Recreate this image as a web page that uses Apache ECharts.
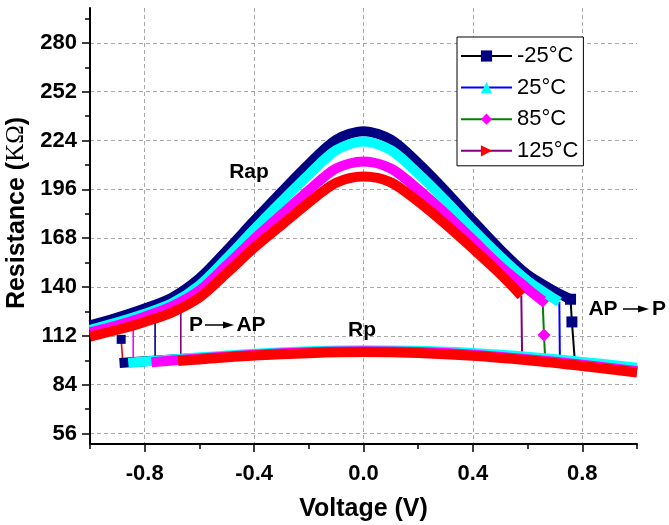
<!DOCTYPE html>
<html>
<head>
<meta charset="utf-8">
<script src="https://cdn.jsdelivr.net/npm/echarts@6/dist/echarts.min.js"></script>
<style>
html,body{margin:0;padding:0;background:#fff;}
#chart{width:669px;height:525px;}
</style>
</head>
<body>
<div id="chart"></div>
<script>
// ---------- DATA ----------
const seriesNames = ['-25°C', '25°C', '85°C', '125°C'];

// Rap (anti-parallel state) branches
const vRapM25 = [-1, -0.9, -0.8, -0.7, -0.6, -0.5, -0.4, -0.3, -0.2, -0.1, 0, 0.1, 0.2, 0.3, 0.4, 0.5, 0.6, 0.7, 0.757];
const rRapM25 = [118, 122.5, 127.7, 134, 145, 161, 178, 194.5, 210.5, 224.5, 229.4, 224.5, 211, 195, 178, 161.5, 147, 137.5, 133];
const vRap25 = [-1, -0.9, -0.8, -0.7, -0.6, -0.5, -0.4, -0.3, -0.2, -0.1, 0, 0.1, 0.2, 0.3, 0.4, 0.5, 0.6, 0.7, 0.716];
const rRap25 = [115.5, 119.8, 124.7, 130.7, 141, 156.5, 173, 189, 204.5, 218.5, 223.4, 218.5, 205, 189.5, 173, 157.5, 143.5, 133, 131.5];
const vRap85 = [-1, -0.9, -0.8, -0.7, -0.6, -0.5, -0.4, -0.3, -0.2, -0.1, 0, 0.1, 0.2, 0.3, 0.4, 0.5, 0.6, 0.656];
const rRap85 = [114, 118, 123, 129, 138, 152.5, 167.5, 181.5, 195.5, 208, 212, 208, 196, 182, 167, 152, 139, 132];
const vRap125 = [-1, -0.9, -0.8, -0.7, -0.6, -0.5, -0.4, -0.3, -0.2, -0.1, 0, 0.1, 0.2, 0.3, 0.4, 0.5, 0.577];
const rRap125 = [111.6, 115.5, 120, 125.5, 134, 148, 162.5, 175.5, 188.5, 199.8, 203.4, 200, 189, 176, 162, 147.5, 135];

// Rp (parallel state) branches
const vRpM25 = [-0.892, -0.8, -0.6, -0.4, -0.2, 0, 0.2, 0.4, 0.6, 0.8, 1.0];
const rRpM25 = [96.5, 97.5, 99.3, 101, 102.4, 103, 102.6, 101.2, 98.8, 95.8, 92.2];
const vRp25 = [-0.86, -0.8, -0.6, -0.4, -0.2, 0, 0.2, 0.4, 0.6, 0.8, 1.0];
const rRp25 = [96.5, 97.3, 99.7, 101.8, 103.2, 103.8, 103.4, 102.2, 100, 97.1, 93.8];
const vRp85 = [-0.775, -0.6, -0.4, -0.2, 0, 0.2, 0.4, 0.6, 0.8, 1.0];
const rRp85 = [96.9, 99.1, 101.2, 102.6, 103.2, 102.7, 101.2, 98.6, 95.5, 91.8];
const vRp125 = [-0.678, -0.6, -0.4, -0.2, 0, 0.2, 0.4, 0.6, 0.8, 1.0];
const rRp125 = [97.6, 98.5, 100.7, 102.1, 102.7, 102.2, 100.6, 98, 94.7, 91];

// AP -> P switching (positive voltage); marker flag 1 = symbol drawn
const vSwApM25 = [0.757, 0.762, 0.772];
const rSwApM25 = [133, 120, 99];
const mSwApM25 = [1, 1, 0];
const vSwAp25 = [0.716, 0.718];
const rSwAp25 = [131.5, 99];
const mSwAp25 = [0, 0];
const vSwAp85 = [0.655, 0.66, 0.664];
const rSwAp85 = [132, 112.5, 99];
const mSwAp85 = [1, 1, 0];
const vSwAp125 = [0.577, 0.58];
const rSwAp125 = [135, 99];
const mSwAp125 = [0, 0];

// P -> AP switching (negative voltage)
const vSwPM25 = [-0.88, -0.886];
const rSwPM25 = [96.6, 110];
const mSwPM25 = [0, 1];
const vSwP25 = [-0.842, -0.842];
const rSwP25 = [96.5, 118.7];
const vSwP85 = [-0.762, -0.762];
const rSwP85 = [97, 121];
const vSwP125 = [-0.668, -0.668];
const rSwP125 = [97.6, 127];

// axis ticks
const yMajorTicks = [56, 84, 112, 140, 168, 196, 224, 252, 280];
const yMinorTicks = [70, 98, 126, 154, 182, 210, 238, 266, 294];
const xMajorTicks = [-0.8, -0.4, 0, 0.4, 0.8];
const xMinorTicks = [-1, -0.6, -0.2, 0.2, 0.6, 1];

// ---------- STYLE ----------
const markerColors = ['#000080', '#00ffff', '#ff00ff', '#ff0000'];
const lineColors = ['#000000', '#0000ff', '#008000', '#800080'];
const leftSwitchColors = ['#ff0000', '#ff00ff', '#000080', '#800080'];
const symbols = ['rect', 'triangle', 'diamond', 'triangle'];
const symbolRot = [0, 0, 0, -90];
const FONT = 'Liberation Sans, Arial, sans-serif';

function pairs(v, r) { return v.map((x, i) => [x, r[i]]); }
function flagged(v, r, m) {
  return v.map((x, i) => m[i] ? { value: [x, r[i]] } : { value: [x, r[i]], symbol: 'none' });
}
function plain(v, r) { return v.map((x, i) => ({ value: [x, r[i]], symbol: 'none' })); }

const rapData = [pairs(vRapM25, rRapM25), pairs(vRap25, rRap25), pairs(vRap85, rRap85), pairs(vRap125, rRap125)];
const rpData = [pairs(vRpM25, rRpM25), pairs(vRp25, rRp25), pairs(vRp85, rRp85), pairs(vRp125, rRp125)];
const swApData = [flagged(vSwApM25, rSwApM25, mSwApM25), flagged(vSwAp25, rSwAp25, mSwAp25),
  flagged(vSwAp85, rSwAp85, mSwAp85), flagged(vSwAp125, rSwAp125, mSwAp125)];
const swPData = [flagged(vSwPM25, rSwPM25, mSwPM25), plain(vSwP25, rSwP25), plain(vSwP85, rSwP85), plain(vSwP125, rSwP125)];

const series = [];
// legend carriers: AP->P switching lines (thin line colour + marker)
for (let i = 0; i < 4; i++) {
  series.push({
    name: seriesNames[i], type: 'line', data: swApData[i], z: 2,
    symbol: symbols[i], symbolSize: symbols[i] === 'diamond' ? 13 : 11, symbolRotate: symbolRot[i],
    itemStyle: { color: markerColors[i] },
    lineStyle: { color: lineColors[i], width: 2 },
    emphasis: { disabled: true }, animation: false
  });
}
for (let i = 0; i < 4; i++) {
  series.push({
    name: seriesNames[i], type: 'line', data: swPData[i], z: 2,
    symbol: 'rect', symbolSize: 9,
    itemStyle: { color: markerColors[i] },
    lineStyle: { color: leftSwitchColors[i], width: 1.6 },
    emphasis: { disabled: true }, animation: false
  });
}
for (let i = 0; i < 4; i++) {
  series.push({
    name: seriesNames[i], type: 'line', data: rapData[i], z: 3, smooth: 0.3,
    symbol: 'none', lineStyle: { color: markerColors[i], width: 10, cap: 'butt' },
    itemStyle: { color: markerColors[i] },
    emphasis: { disabled: true }, animation: false
  });
}
for (let i = 0; i < 4; i++) {
  series.push({
    name: seriesNames[i], type: 'line', data: rpData[i], z: 3, smooth: 0.3,
    symbol: 'none', lineStyle: { color: markerColors[i], width: 10, cap: 'butt' },
    itemStyle: { color: markerColors[i] },
    emphasis: { disabled: true }, animation: false
  });
}

const axisTxt = { color: '#000', fontFamily: FONT, fontWeight: 'bold', fontSize: 22 };
const txtStyle = (t, x, y, size) => ({ type: 'text', z: 20, style: { text: t, x: x, y: y, align: 'center', verticalAlign: 'middle', textAlign: 'center', textVerticalAlign: 'middle', font: 'bold ' + size + 'px ' + FONT, fill: '#000' } });

const option = {
  animation: false,
  backgroundColor: '#fff',
  grid: { left: 90, right: 32, top: 8, bottom: 81, outerBoundsMode: 'none', containLabel: false },
  xAxis: [{
    type: 'value', min: -1, max: 1, position: 'bottom',
    name: 'Voltage (V)', nameLocation: 'middle', nameGap: 53,
    nameTextStyle: { color: '#000', fontFamily: FONT, fontWeight: 'bold', fontSize: 25 },
    axisLine: { show: true, onZero: false, lineStyle: { color: '#000', width: 2 } },
    axisTick: { show: true, inside: false, length: 8, customValues: xMajorTicks, lineStyle: { color: '#000', width: 1.5 } },
    axisLabel: { show: true, margin: 19, customValues: xMajorTicks, formatter: v => v.toFixed(1), ...axisTxt },
    splitLine: { show: true, lineStyle: { color: '#a8a8a8', type: [4, 3], width: 1 } }
  }, {
    type: 'value', min: -1, max: 1, position: 'bottom',
    axisLine: { show: false, onZero: false },
    axisTick: { show: true, inside: false, length: 5, customValues: xMinorTicks, lineStyle: { color: '#000', width: 1.5 } },
    axisLabel: { show: false }, splitLine: { show: false }
  }],
  yAxis: [{
    type: 'value', min: 50, max: 300, position: 'left',
    name: 'Resistance ({s|KΩ})', nameLocation: 'middle', nameGap: 56, nameRotate: 90,
    nameTextStyle: { color: '#000', fontFamily: FONT, fontWeight: 'bold', fontSize: 25, padding: [0, 0, 0, 26],
      rich: { s: { fontFamily: 'Liberation Serif, serif', fontWeight: 'normal', fontSize: 25, color: '#000' } } },
    axisLine: { show: true, onZero: false, lineStyle: { color: '#000', width: 2 } },
    axisTick: { show: true, inside: false, length: 8, customValues: yMajorTicks, lineStyle: { color: '#000', width: 1.5 } },
    axisLabel: { show: true, margin: 13, customValues: yMajorTicks, ...axisTxt },
    splitLine: { show: true, lineStyle: { color: '#a8a8a8', type: [4, 3], width: 1 } }
  }, {
    type: 'value', min: 50, max: 300, position: 'left',
    axisLine: { show: false, onZero: false },
    axisTick: { show: true, inside: false, length: 5, customValues: yMinorTicks, lineStyle: { color: '#000', width: 1.5 } },
    axisLabel: { show: false }, splitLine: { show: false }
  }],
  legend: {
    show: true, orient: 'vertical', left: 457, top: 37,
    backgroundColor: '#fff', borderColor: '#000', borderWidth: 1, borderRadius: 0,
    padding: [8, 5, 4, 3], itemWidth: 51, itemHeight: 14, itemGap: 9.6,
    selectedMode: false, z: 10,
    data: seriesNames,
    textStyle: { color: '#000', fontFamily: FONT, fontSize: 22, lineHeight: 22 }
  },
  graphic: [
    txtStyle('Rap', 249, 172, 21),
    txtStyle('Rp', 362, 330, 21),
    txtStyle('P', 196, 325, 21),
    { type: 'line', z: 20, shape: { x1: 205, y1: 325, x2: 226, y2: 325 }, style: { stroke: '#000', lineWidth: 1.5 } },
    { type: 'polygon', z: 20, shape: { points: [[223, 321.5], [234, 325], [223, 328.5]] }, style: { fill: '#000' } },
    txtStyle('AP', 251, 325, 21),
    txtStyle('AP', 603, 309, 21),
    { type: 'line', z: 20, shape: { x1: 623, y1: 309, x2: 641, y2: 309 }, style: { stroke: '#000', lineWidth: 1.5 } },
    { type: 'polygon', z: 20, shape: { points: [[638, 305.5], [649, 309], [638, 312.5]] }, style: { fill: '#000' } },
    txtStyle('P', 659, 309, 21)
  ],
  series: series
};

const chart = echarts.init(document.getElementById('chart'), null, { renderer: 'canvas' });
chart.setOption(option);
</script>
</body>
</html>
